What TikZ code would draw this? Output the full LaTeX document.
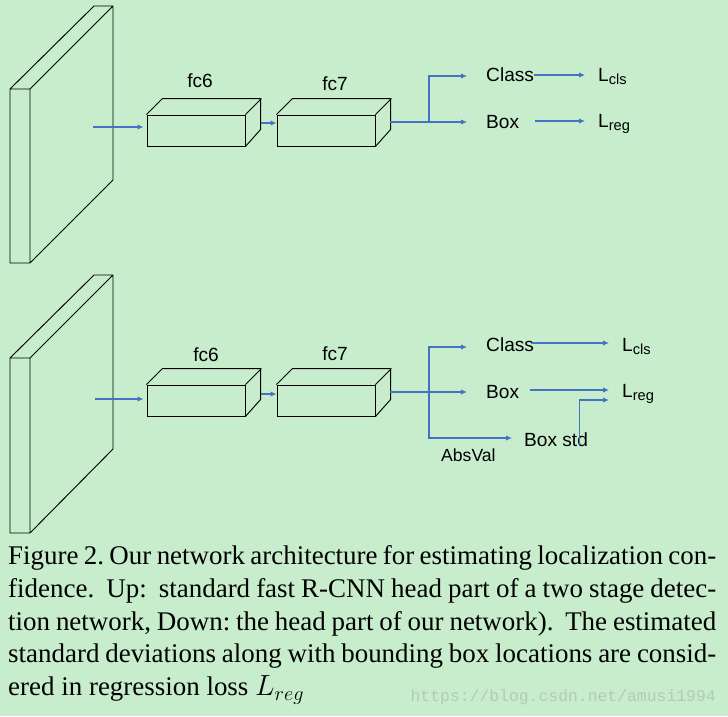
\documentclass[tikz,border=0pt]{standalone}
\usepackage{fontspec}
\setmainfont{Liberation Serif}
\newfontfamily\labelfont{Liberation Sans}
\newfontfamily\markfont{Liberation Mono}
\usetikzlibrary{arrows.meta, calc, positioning}
\definecolor{bggreen}{RGB}{199,237,204}
\definecolor{arrblue}{RGB}{68,114,196}
\definecolor{markgray}{RGB}{183,200,186}
\newcommand{\lsub}[1]{L\smash{\raisebox{-2.5pt}{\fontsize{12.5}{13}\selectfont #1}}}
\newcommand{\capline}[1]{\makebox[21.24cm][s]{#1}}

\begin{document}
\begin{tikzpicture}[x=0.03cm, y=-0.03cm, >={Latex[length=5pt,width=4.5pt]}]
    \tikzstyle{fcbox} = [draw, line width=0.8pt, minimum width=2.94cm,
	minimum height=0.93cm, inner sep=0pt]
    \tikzstyle{lbl} = [inner sep=0pt, anchor=west,
	font=\labelfont\fontsize{16.3}{19}\selectfont]
    \tikzstyle{arr} = [->, arrblue, line width=0.9pt]
    \tikzstyle{edges} = [line width=0.8pt, line join=round]

    \fill[bggreen] (0,0) rectangle (728,716);
    \useasboundingbox (0,0) rectangle (728,716);

	% standard head
	\begin{scope}
		\draw[edges] (10,89) rectangle (30,263)
			(10,89) -- (94,6) -- (113,6) -- (30,89)
			(113,6) -- (113,180) -- (30,263);

		\coordinate (in1) at (93,127);
		\node[fcbox] (fc6a) at (196,130.5) {};
		\node[fcbox] (fc7a) at (326,130.5) {};
		\draw[edges] (fc6a.north west) -- ++(16,-16) -- ++(98,0) -- ++(0,31)
			-- (fc6a.south east) (fc6a.north east) -- ++(16,-16);
		\draw[edges] (fc7a.north west) -- ++(16,-16) -- ++(98,0) -- ++(0,31)
			-- (fc7a.south east) (fc7a.north east) -- ++(16,-16);
		\node[lbl, anchor=center] (t6a) at (200,81) {fc6};
		\node[lbl, anchor=center] (t7a) at (335,84) {fc7};

		\coordinate (o6a) at (261,123);
		\coordinate (o7a) at (390,122);
		\coordinate (br1) at (429,122);
		\node[lbl] (cls1) at (486,75) {Class};
		\node[lbl] (box1) at (486,122) {Box};
		\node[lbl] (lc1) at (598,75) {\lsub{cls}};
		\node[lbl] (lr1) at (598,121) {\lsub{reg}};

		\draw[arr] (in1) -- ($(fc6a.west |- in1)+(-3,0)$);
		\draw[arr] (o6a) -- (o6a -| fc7a.west);
		\draw[arr] (o7a) -- ($(box1.west)+(-19,0)$);
		\draw[arr] (br1) |- ($(cls1.west)+(-19,1)$);
		\draw[arr] (cls1.east) -- ($(lc1.west)+(-13,0)$);
		\draw[arr] ($(box1.east)+(16,-1)$) -- ($(lr1.west)+(-13,0)$);
	\end{scope}

	% our head with box std
	\begin{scope}[shift={(0,270)}]
		\draw[edges] (10,88) rectangle (30,263)
			(10,88) -- (94,5) -- (113,5) -- (30,88)
			(113,5) -- (113,179) -- (30,263);

		\coordinate (in2) at (95,129);
		\node[fcbox] (fc6b) at (196,130.5) {};
		\node[fcbox] (fc7b) at (326,130.5) {};
		\draw[edges] (fc6b.north west) -- ++(16,-16) -- ++(98,0) -- ++(0,31)
			-- (fc6b.south east) (fc6b.north east) -- ++(16,-16);
		\draw[edges] (fc7b.north west) -- ++(16,-16) -- ++(98,0) -- ++(0,31)
			-- (fc7b.south east) (fc7b.north east) -- ++(16,-16);
		\node[lbl, anchor=center] (t6b) at (206,85) {fc6};
		\node[lbl, anchor=center] (t7b) at (335,84) {fc7};

		\coordinate (o6b) at (261,124);
		\coordinate (o7b) at (390,122);
		\coordinate (br2) at (429,122);
		\node[lbl] (cls2) at (486,75) {Class};
		\node[lbl] (box2) at (486,122) {Box};
		\node[lbl] (bstd) at (524,170) {Box std};
		\node[lbl, font=\labelfont\fontsize{15}{18}\selectfont] (absv) at (441,185) {AbsVal};
		\node[lbl] (lc2) at (622,75) {\lsub{cls}};
		\node[lbl] (lr2) at (622,121) {\lsub{reg}};

		\draw[arr] (in2) -- ($(fc6b.west |- in2)+(-3,0)$);
		\draw[arr] (o6b) -- (o6b -| fc7b.west);
		\draw[arr] (o7b) -- ($(box2.west)+(-19,0)$);
		\draw[arr] (br2) |- ($(cls2.west)+(-19,2)$);
		\draw[arr] (br2) |- ($(bstd.west)+(-12,-2)$);
		\draw[arr] ($(cls2.east)+(-2,-2)$) -- ($(lc2.west)+(-13,-2)$);
		\draw[arr] ($(box2.east)+(11,-2)$) -- ($(lr2.west)+(-13,-1)$);
		\draw[arr] ($(bstd.east)+(-9,6)$) |- ($(lr2.west)+(-13,9)$);
	\end{scope}

	% caption
	\node[anchor=north west, inner sep=0pt, align=left,
		font=\fontsize{23}{28.1}\selectfont\frenchspacing] (cap) at (8,545) {%
		\capline{Figure 2. Our network architecture for estimating localization con-}\\
		\capline{fidence.\ \ Up:\ \ standard fast R-CNN head part of a two stage detec-}\\
		\capline{tion network, Down:\ the head part of our network).\ \ The estimated}\\
		\capline{standard deviations along with bounding box locations are consid-}\\
		ered in regression loss $L_{reg}$};
	\node[anchor=east, inner sep=0pt, text=markgray,
		font=\markfont\fontsize{14}{16}\selectfont] (mark) at (716,697)
		{https://blog.csdn.net/amusi1994};
\end{tikzpicture}
\end{document}
